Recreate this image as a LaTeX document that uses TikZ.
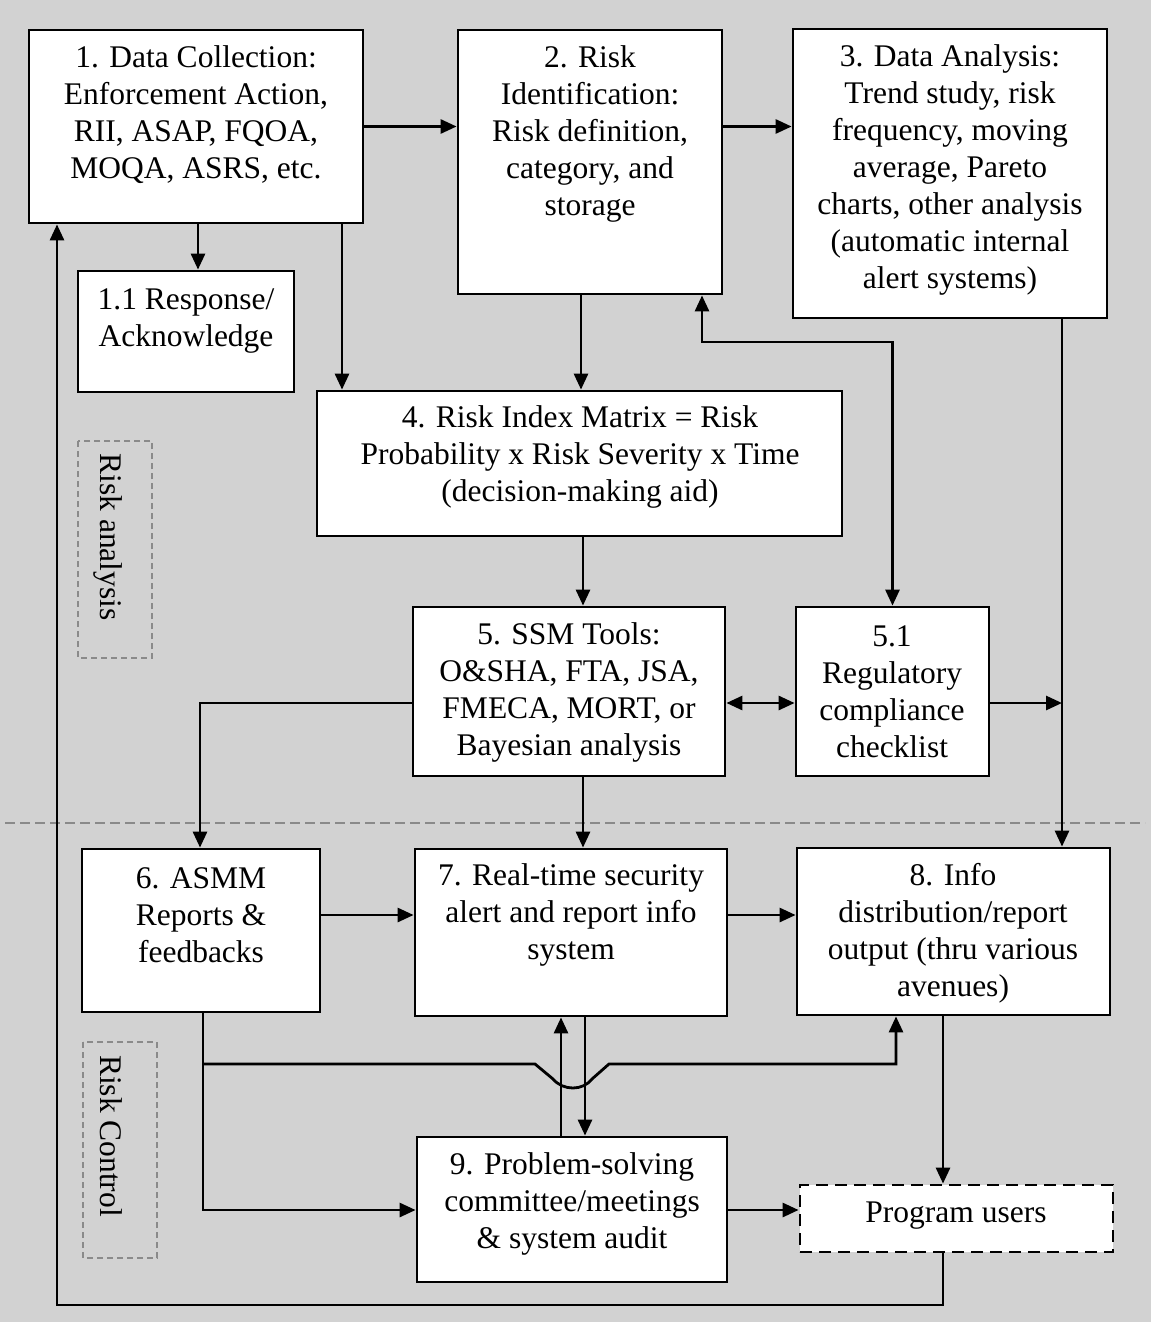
\documentclass[tikz,border=0pt]{standalone}
\usepackage{fontspec}
\setmainfont{Liberation Serif}
\usetikzlibrary{arrows.meta,calc}
\definecolor{bg}{HTML}{D2D2D2}
\definecolor{sep}{HTML}{8A8A8A}
\tikzset{
  box/.style={draw=black, fill=white, line width=2.8pt, rectangle, inner sep=0pt},
  txt/.style={align=center, inner sep=0pt, font=\fontsize{31.5}{37}\selectfont},
  conn/.style={line width=2.8pt, draw=black},
  arr/.style={conn, -{Triangle[length=16pt,width=14pt]}},
  darr/.style={conn, {Triangle[length=16pt,width=14pt]}-{Triangle[length=16pt,width=14pt]}},
  grpbox/.style={draw=sep, line width=1.2pt, dash pattern=on 6pt off 4pt},
}
\begin{document}
\begin{tikzpicture}[x=1pt,y=-1pt]
\useasboundingbox (0,0) rectangle (1151,1322);
\fill[bg] (0,0) rectangle (1151,1322);

% separator and group boxes
\draw[sep, line width=1.2pt, dash pattern=on 10pt off 5pt] (5,823) -- (1145,823);
\draw[grpbox] (78,441) rectangle (152,658);
\draw[grpbox] (83,1042) rectangle (157,1258);
\node[txt, rotate=-90] (lra) at (108,537) {Risk analysis};
\node[txt, rotate=-90] (lrc) at (111,1136) {Risk Control};

% boxes
\node[box, minimum width=334pt, minimum height=193pt] (b1) at (196,126.5) {};
\node[box, minimum width=216pt, minimum height=121pt] (b11) at (186,331.5) {};
\node[box, minimum width=264pt, minimum height=264pt] (b2) at (590,162) {};
\node[box, minimum width=314pt, minimum height=289pt] (b3) at (950,173.5) {};
\node[box, minimum width=525pt, minimum height=145pt] (b4) at (579.5,463.5) {};
\node[box, minimum width=312pt, minimum height=169pt] (b5) at (569,691.5) {};
\node[box, minimum width=193pt, minimum height=169pt] (b51) at (892.5,691.5) {};
\node[box, minimum width=238pt, minimum height=163pt] (b6) at (201,930.5) {};
\node[box, minimum width=312pt, minimum height=167pt] (b7) at (571,932.5) {};
\node[box, minimum width=313pt, minimum height=167pt] (b8) at (953.5,931.5) {};
\node[box, minimum width=310pt, minimum height=145pt] (b9) at (572,1209.5) {};
\node[box, dash pattern=on 12pt off 7pt, minimum width=313pt, minimum height=67pt] (pu) at (956.5,1218.5) {};

% texts
\node[txt] (t1) at (196,115) {1. Data Collection:\\Enforcement Action,\\RII, ASAP, FQOA,\\MOQA, ASRS, etc.};
\node[txt] (t11) at (186,321) {1.1 Response/\\Acknowledge};
\node[txt] (t2) at (590,134) {2. Risk\\Identification:\\Risk definition,\\category, and\\storage};
\node[txt] (t3) at (950,170) {3. Data Analysis:\\Trend study, risk\\frequency, moving\\average, Pareto\\charts, other analysis\\(automatic internal\\alert systems)};
\node[txt] (t4) at (580,457) {4. Risk Index Matrix = Risk\\Probability x Risk Severity x Time\\(decision-making aid)};
\node[txt] (t5) at (569,692) {5. SSM Tools:\\O\&SHA, FTA, JSA,\\FMECA, MORT, or\\Bayesian analysis};
\node[txt] (t51) at (892,692) {5.1\\Regulatory\\compliance\\checklist};
\node[txt] (t6) at (201,915) {6. ASMM\\Reports \&\\feedbacks};
\node[txt] (t7) at (571,915) {7. Real-time security\\alert and report info\\system};
\node[txt] (t8) at (953,933) {8. Info\\distribution/report\\output (thru various\\avenues)};
\node[txt] (t9) at (572,1204) {9. Problem-solving\\committee/meetings\\\& system audit};
\node[txt] (tpu) at (956,1216) {Program users};

% helper coordinates
\coordinate (k1) at (702,342);
\coordinate (k2) at (892.5,342);
\coordinate (j1) at (1062,703);
\coordinate (m1) at (200,703);
\coordinate (s1) at (203,1064);
\coordinate (s2) at (896,1064);
\coordinate (f1) at (943,1305);
\coordinate (f2) at (57,1305);

% connectors
\draw[arr] (b1.east) -- (b2.west |- b1.east);
\draw[arr] (b2.east |- b1.east) -- (b3.west |- b1.east);
\draw[arr] (b1.south -| 198,0) -- (b11.north -| 198,0);
\draw[arr] (b1.south -| 342,0) -- (b4.north -| 342,0);
\draw[arr] (b2.south -| 581,0) -- (b4.north -| 581,0);
\draw[darr] (b2.south -| k1) -- (k1) -- (k2) -- (b51.north);
\draw[arr] (b4.south -| 583,0) -- (b5.north -| 583,0);
\draw[darr] (b5.east |- j1) -- (b51.west |- j1);
\draw[arr] (b3.south -| j1) -- (b8.north -| j1);
\draw[arr] (b51.east |- j1) -- (j1);
\draw[arr] (b5.west |- m1) -- (m1) -- (b6.north -| m1);
\draw[arr] (b5.south -| 583,0) -- (b7.north -| 583,0);
\draw[arr] (b6.east |- 0,915) -- (b7.west |- 0,915);
\draw[arr] (b7.east |- 0,915) -- (b8.west |- 0,915);
\draw[arr] (b6.south -| s1) -- (s1) |- (b9.west |- 0,1210);
\draw[arr] (s1) -- (535,1064) -- (553,1079)
  .. controls (563,1091) and (583,1091) .. (592,1079) -- (609,1064) -- (s2) -- (b8.south -| s2);
\draw[arr] (b9.north -| 561,0) -- (b7.south -| 561,0);
\draw[arr] (b7.south -| 585,0) -- (b9.north -| 585,0);
\draw[arr] (b9.east |- 0,1210) -- (pu.west |- 0,1210);
\draw[arr] (b8.south -| f1) -- (pu.north -| f1);
\draw[arr] (pu.south -| f1) -- (f1) -- (f2) -- (b1.south -| f2);
\end{tikzpicture}
\end{document}
